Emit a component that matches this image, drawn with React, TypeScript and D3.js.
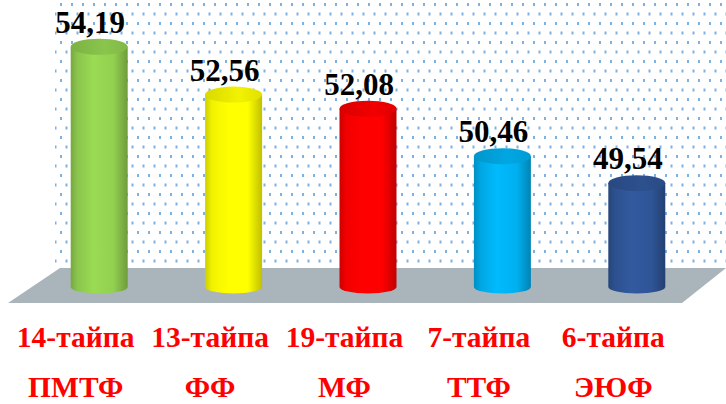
import * as d3 from "d3"
import React, { useRef, useEffect } from "react"

const faculties = ["14-тайпа", "13-тайпа", "19-тайпа", "7-тайпа", "6-тайпа"]
const shortNames = ["ПМТФ", "ФФ", "МФ", "ТТФ", "ЭЮФ"]
const scores = [54.19, 52.56, 52.08, 50.46, 49.54]
const barColors = ["#92d050", "#ffff00", "#ff0000", "#00b0f0", "#2f5597"]

const fmt = (v: number) => v.toFixed(2).replace(".", ",")

function App() {
  const svgRef = useRef<SVGSVGElement>(null)

  useEffect(() => {
    const width = 726,
      height = 404
    const floorTop = 268,
      floorBottom = 303

    const svg = d3.select(svgRef.current)
    svg.selectAll("*").remove()

    const x = d3
      .scaleBand()
      .domain(faculties)
      .range([32, 704])
      .paddingInner(0.576)
      .paddingOuter(0.288)

    const y = d3.scaleLinear().domain([46, 55]).range([287, 23])

    const defs = svg.append("defs")

    // dotted back wall
    const pat = defs
      .append("pattern")
      .attr("id", "dots")
      .attr("patternUnits", "userSpaceOnUse")
      .attr("width", 11)
      .attr("height", 19)
      .attr("x", 60)
      .attr("y", 3)
    pat.append("rect").attr("x", 0).attr("y", 0).attr("width", 2).attr("height", 3).attr("fill", "#5d9ddb")
    pat.append("rect").attr("x", 5.5).attr("y", 9.5).attr("width", 2).attr("height", 3).attr("fill", "#5d9ddb")

    svg
      .append("rect")
      .attr("x", 55)
      .attr("y", 0)
      .attr("width", width - 55)
      .attr("height", floorTop)
      .attr("fill", "url(#dots)")
      .attr("opacity", 0.8)

    // floor
    svg
      .append("polygon")
      .attr("points", [[60, floorTop], [width, floorTop], [682, floorBottom], [8, floorBottom]].map((p) => p.join(",")).join(" "))
      .attr("fill", "#aab4bb")

    barColors.forEach((c, i) => {
      const base = d3.color(c)
      const side = defs
        .append("linearGradient")
        .attr("id", "side" + i)
        .attr("x1", "0%")
        .attr("x2", "100%")
      side.append("stop").attr("offset", "0%").attr("stop-color", base.darker(0.6).formatHex())
      side.append("stop").attr("offset", "12%").attr("stop-color", base.darker(0.15).formatHex())
      side.append("stop").attr("offset", "40%").attr("stop-color", base.brighter(0.15).formatHex())
      side.append("stop").attr("offset", "75%").attr("stop-color", base.formatHex())
      side.append("stop").attr("offset", "100%").attr("stop-color", base.darker(0.8).formatHex())

      const top = defs
        .append("linearGradient")
        .attr("id", "top" + i)
        .attr("x1", "0%")
        .attr("x2", "100%")
      top.append("stop").attr("offset", "0%").attr("stop-color", base.darker(0.45).formatHex())
      top.append("stop").attr("offset", "60%").attr("stop-color", base.darker(0.15).formatHex())
      top.append("stop").attr("offset", "100%").attr("stop-color", base.darker(0.35).formatHex())
    })

    const rx = x.bandwidth() / 2
    const ryTop = 8,
      ryBot = 6.5

    const bars = svg
      .selectAll("g.bar")
      .data(scores)
      .join("g")
      .attr("class", "bar")

    bars
      .append("path")
      .attr("d", (d, i) => {
        const x0 = x(faculties[i])
        const x1 = x0 + x.bandwidth()
        const yt = y(d)
        const yb = y(46)
        return `M${x0},${yt} L${x0},${yb} A${rx},${ryBot} 0 0 0 ${x1},${yb} L${x1},${yt} Z`
      })
      .attr("fill", (d, i) => `url(#side${i})`)

    bars
      .append("ellipse")
      .attr("cx", (d, i) => x(faculties[i]) + rx)
      .attr("cy", (d) => y(d))
      .attr("rx", rx)
      .attr("ry", ryTop)
      .attr("fill", (d, i) => `url(#top${i})`)

    // values
    svg
      .selectAll("text.val")
      .data(scores)
      .join("text")
      .attr("class", "val")
      .attr("x", (d, i) => x(faculties[i]) + rx - 9)
      .attr("y", (d) => y(d) - 14)
      .attr("text-anchor", "middle")
      .attr("font-family", "'Liberation Serif', 'Times New Roman', serif")
      .attr("font-weight", "bold")
      .attr("font-size", 31)
      .attr("fill", "#000")
      .text((d) => fmt(d))

    // category labels
    const labels = svg
      .selectAll("g.lab")
      .data(faculties)
      .join("g")
      .attr("class", "lab")
      .attr("transform", (d) => `translate(${x(d) + rx - 23.5},0)`)
      .attr("font-family", "'Liberation Serif', 'Times New Roman', serif")
      .attr("font-weight", "bold")
      .attr("font-size", 29.5)
      .attr("fill", "#ff0000")
      .attr("text-anchor", "middle")

    labels.append("text").attr("y", 347).text((d) => d)
    labels.append("text").attr("y", 397).text((d, i) => shortNames[i])
  }, [])

  return (
    <svg
      ref={svgRef}
      width={726}
      height={404}
      style={{ position: "absolute", left: 0, top: 0, background: "#fff" }}
    />
  )
}

export default App
